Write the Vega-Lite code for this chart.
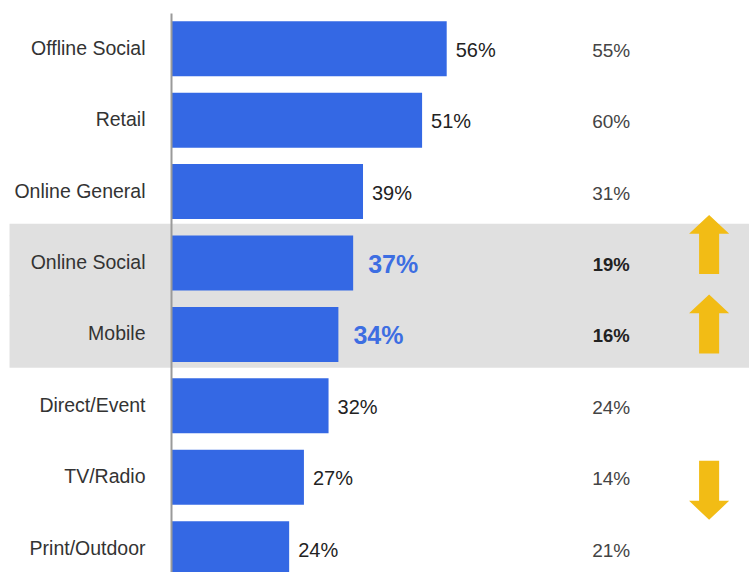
{
  "$schema": "https://vega.github.io/schema/vega-lite/v6.json",
  "description": "Share of respondents by channel, with comparison column",
  "autosize": {"type": "none"},
  "padding": {"left": 171, "top": 13, "right": 0, "bottom": 0},
  "width": 578,
  "height": 571.4,
  "data": {
    "values": [
      {"channel": "Offline Social", "share": 0.56, "prev": 0.55, "highlight": false, "trend": null},
      {"channel": "Retail", "share": 0.51, "prev": 0.60, "highlight": false, "trend": null},
      {"channel": "Online General", "share": 0.39, "prev": 0.31, "highlight": false, "trend": null},
      {"channel": "Online Social", "share": 0.37, "prev": 0.19, "highlight": true, "trend": "up"},
      {"channel": "Mobile", "share": 0.34, "prev": 0.16, "highlight": true, "trend": "up"},
      {"channel": "Direct/Event", "share": 0.32, "prev": 0.24, "highlight": false, "trend": null},
      {"channel": "TV/Radio", "share": 0.27, "prev": 0.14, "highlight": false, "trend": "down"},
      {"channel": "Print/Outdoor", "share": 0.24, "prev": 0.21, "highlight": false, "trend": null}
    ]
  },
  "encoding": {
    "y": {
      "field": "channel",
      "type": "nominal",
      "sort": ["Offline Social", "Retail", "Online General", "Online Social", "Mobile", "Direct/Event", "TV/Radio", "Print/Outdoor"],
      "scale": {"paddingInner": 0.23, "paddingOuter": 0.115},
      "axis": {
        "title": null,
        "ticks": false,
        "labelPadding": 26,
        "labelFont": "Liberation Sans",
        "labelFontSize": 19.5,
        "labelColor": "#333333",
        "labelLimit": 300,
        "domainColor": "#9a9a9a",
        "domainWidth": 2,
        "zindex": 1
      }
    }
  },
  "layer": [
    {
      "transform": [{"filter": "datum.highlight"}],
      "mark": {"type": "bar", "color": "#e0e0e0", "height": {"band": 1.32}, "yOffset": -3},
      "encoding": {
        "x": {"datum": -0.328, "type": "quantitative", "scale": {"domain": [0, 1.174], "nice": false, "zero": false}, "axis": null},
        "x2": {"datum": 1.174}
      }
    },
    {
      "mark": {"type": "bar", "color": "#3468e4"},
      "encoding": {
        "x": {"field": "share", "type": "quantitative"}
      }
    },
    {
      "transform": [{"filter": "!datum.highlight"}],
      "mark": {"type": "text", "align": "left", "baseline": "middle", "dx": 9, "dy": 2, "font": "Liberation Sans", "fontSize": 20, "color": "#222222"},
      "encoding": {
        "x": {"field": "share", "type": "quantitative"},
        "text": {"field": "share", "format": ".0%"}
      }
    },
    {
      "transform": [{"filter": "datum.highlight"}],
      "mark": {"type": "text", "align": "left", "baseline": "middle", "dx": 15, "dy": 2, "font": "Liberation Sans", "fontSize": 25, "fontWeight": "bold", "color": "#3d6ee2"},
      "encoding": {
        "x": {"field": "share", "type": "quantitative"},
        "text": {"field": "share", "format": ".0%"}
      }
    },
    {
      "transform": [{"filter": "!datum.highlight"}],
      "mark": {"type": "text", "align": "center", "baseline": "middle", "dy": 2, "font": "Liberation Sans", "fontSize": 19, "color": "#444444"},
      "encoding": {
        "x": {"datum": 0.894, "type": "quantitative"},
        "text": {"field": "prev", "format": ".0%"}
      }
    },
    {
      "transform": [{"filter": "datum.highlight"}],
      "mark": {"type": "text", "align": "center", "baseline": "middle", "dy": 2, "font": "Liberation Sans", "fontSize": 18.5, "fontWeight": "bold", "color": "#222222"},
      "encoding": {
        "x": {"datum": 0.894, "type": "quantitative"},
        "text": {"field": "prev", "format": ".0%"}
      }
    },
    {
      "transform": [{"filter": "datum.channel == 'Online Social'"}],
      "mark": {"type": "point", "filled": true, "opacity": 1, "color": "#f2bc15", "size": 3481, "yOffset": -18.5, "shape": "M0,-1L0.68,-0.36L0.34,-0.36L0.34,1L-0.34,1L-0.34,-0.36L-0.68,-0.36Z"},
      "encoding": {
        "x": {"datum": 1.093, "type": "quantitative"}
      }
    },
    {
      "transform": [{"filter": "datum.channel == 'Mobile'"}],
      "mark": {"type": "point", "filled": true, "opacity": 1, "color": "#f2bc15", "size": 3481, "yOffset": -10.5, "shape": "M0,-1L0.68,-0.36L0.34,-0.36L0.34,1L-0.34,1L-0.34,-0.36L-0.68,-0.36Z"},
      "encoding": {
        "x": {"datum": 1.093, "type": "quantitative"}
      }
    },
    {
      "transform": [{"filter": "datum.trend == 'down'"}],
      "mark": {"type": "point", "filled": true, "opacity": 1, "color": "#f2bc15", "size": 3481, "yOffset": 13, "shape": "M0,1L0.68,0.36L0.34,0.36L0.34,-1L-0.34,-1L-0.34,0.36L-0.68,0.36Z"},
      "encoding": {
        "x": {"datum": 1.093, "type": "quantitative"}
      }
    }
  ],
  "config": {
    "view": {"stroke": null}
  }
}
